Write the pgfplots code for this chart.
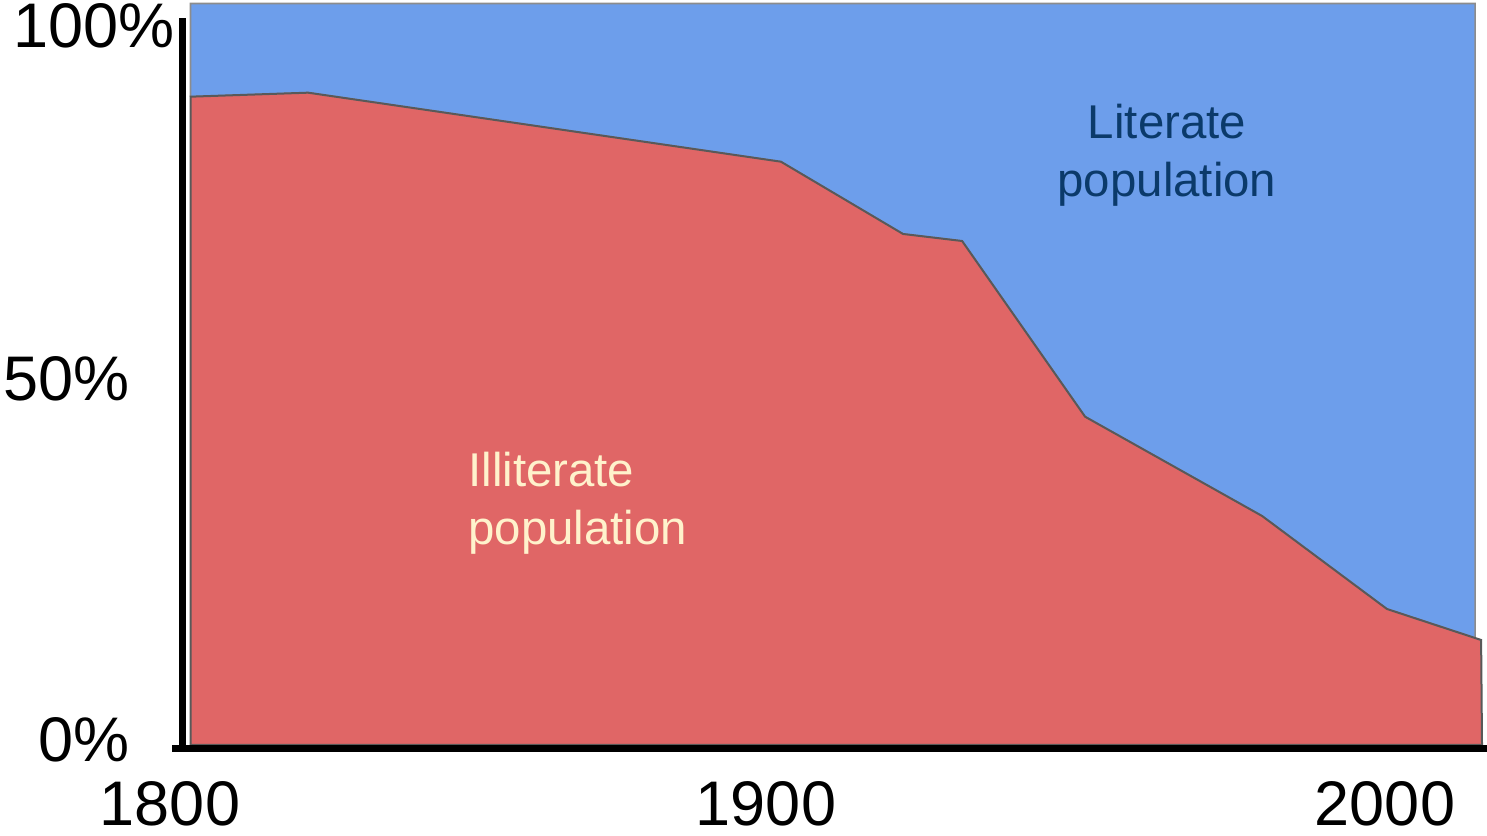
\documentclass[border=0pt]{standalone}
\usepackage{pgfplots}
\pgfplotsset{compat=1.18}
\usepackage{fontspec}
\setmainfont{Liberation Sans}
\definecolor{litblue}{HTML}{6D9EEB}
\definecolor{illred}{HTML}{E06666}
\definecolor{navy}{HTML}{0B3A6A}
\definecolor{cream}{HTML}{FFF2CC}
\definecolor{edge}{HTML}{595959}
\begin{document}
\begin{tikzpicture}
\useasboundingbox (-95.25pt,-44.75pt) rectangle (648.25pt,372.75pt);
\begin{axis}[
  at={(0pt,0pt)}, anchor=south west,
  scale only axis, width=645.75pt, height=371pt,
  xmin=1800, xmax=2015.25, ymin=0, ymax=100,
  axis line style={draw=none},
  xtick=\empty, ytick=\empty,
  clip=false,
]
% literate (upper) area: top at 100%, bottom along the illiterate share
\addplot[fill=litblue, draw=gray!90, line width=0.8pt] coordinates {
  (1800,87.44) (1800,100) (2014.1,100) (2014.1,14.49) (1999.4,18.40)
  (1978.6,30.93) (1949.1,44.31) (1928.6,67.99) (1918.75,68.94)
  (1898.4,78.68) (1819.6,87.98) (1800,87.44)};
% illiterate share
\addplot[fill=illred, draw=edge, line width=1pt] coordinates {
  (1800,0.1) (1800,87.44) (1819.6,87.98) (1898.4,78.68) (1918.75,68.94)
  (1928.6,67.99) (1949.1,44.31) (1978.6,30.93) (1999.4,18.40)
  (2015.1,14.22) (2015.25,0.1) (1800,0.1)};
\end{axis}
% axis lines
\draw[line width=3.5pt] (-4.25pt,-2.5pt) -- (-4.25pt,363.5pt);
\draw[line width=3.25pt] (-9.25pt,-1.4pt) -- (648.25pt,-1.4pt);
% tick labels
\begin{scope}[every node/.style={inner sep=0pt, font=\fontsize{31.5}{36}\selectfont}]
\node[anchor=east] at (-7.75pt,359.75pt) {100\%};
\node[anchor=east] at (-30.25pt,183.25pt) {50\%};
\node[anchor=east] at (-30.25pt,2.75pt) {0\%};
\node at (-10.25pt,-29pt) {1800};
\node at (287.75pt,-29pt) {1900};
\node at (597.25pt,-29pt) {2000};
\end{scope}
% series labels
\node[inner sep=0pt, align=center, text=navy, font=\fontsize{23.7}{29}\selectfont]
  at (488.25pt,295.25pt) {Literate\\population};
\node[inner sep=0pt, align=left, anchor=west, text=cream, font=\fontsize{23.7}{29}\selectfont]
  at (138.75pt,121.25pt) {Illiterate\\population};
\end{tikzpicture}
\end{document}
